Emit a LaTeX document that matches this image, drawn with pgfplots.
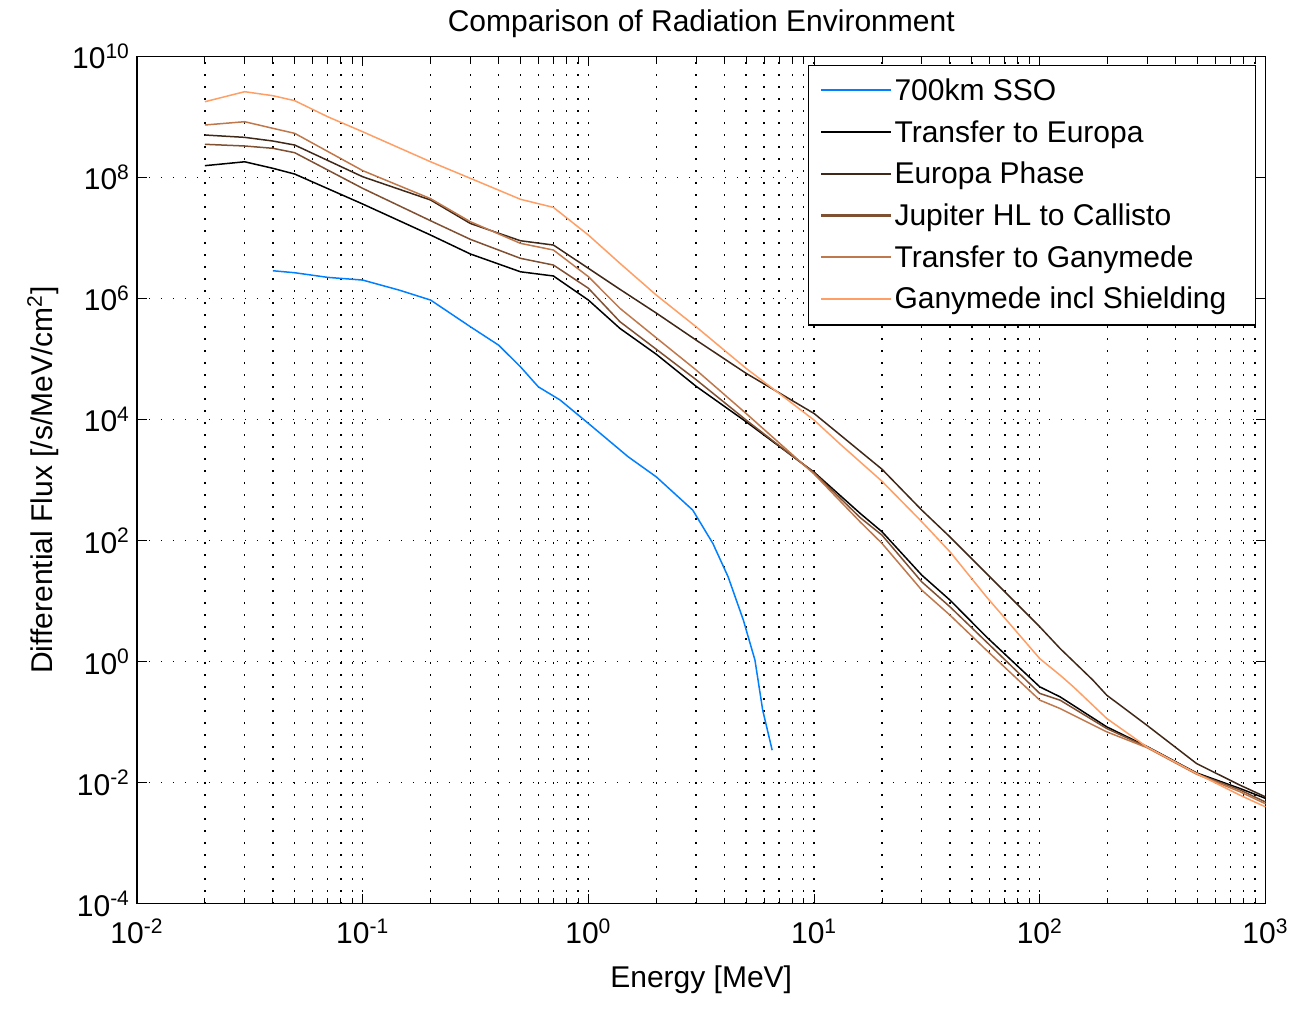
\documentclass[border=0pt]{standalone}
\usepackage{pgfplots}
\pgfplotsset{compat=1.18}
\usepackage{fontspec}
\setmainfont{Liberation Sans}
\definecolor{sso}{rgb}{0.0,0.5,1.0}
\definecolor{cA}{rgb}{0,0,0}
\definecolor{cB}{rgb}{0.25,0.156,0.1}
\definecolor{cC}{rgb}{0.5,0.3125,0.199}
\definecolor{cD}{rgb}{0.75,0.469,0.2985}
\definecolor{cE}{rgb}{1,0.625,0.398}
\newcommand{\fs}{\fontsize{15}{18}\selectfont}
\begin{document}
\begin{tikzpicture}
\path[use as bounding box] (-68.5pt,-52.15pt) rectangle (580pt,451.85pt);
\begin{axis}[
  scale only axis, width=564.25pt, height=423.6pt,
  xmode=log, ymode=log,
  xmin=1e-2, xmax=1e3, ymin=1e-4, ymax=1e10,
  xtick={1e-2,1e-1,1,1e1,1e2,1e3},
  xticklabels={10\textsuperscript{-2},10\textsuperscript{-1},10\textsuperscript{0},10\textsuperscript{1},10\textsuperscript{2},10\textsuperscript{3}},
  ytick={1e-4,1e-2,1,1e2,1e4,1e6,1e8,1e10},
  yticklabels={10\textsuperscript{-4},10\textsuperscript{-2},10\textsuperscript{0},10\textsuperscript{2},10\textsuperscript{4},10\textsuperscript{6},10\textsuperscript{8},10\textsuperscript{10}},
  yminorticks=false,
  tick align=inside,
  major tick length=5pt, minor tick length=3pt,
  tick style={black, line width=0.5pt},
  axis line style={black, line width=0.6pt},
  xmajorgrids, ymajorgrids, xminorgrids,
  major grid style={black, line width=0.7pt, dash pattern=on 0.7pt off 5.3pt},
  minor grid style={black, line width=0.7pt, dash pattern=on 0.7pt off 5.3pt},
  tick label style={font=\fs},
  xticklabel style={yshift=-4pt},
  label style={font=\fs},
  xlabel style={yshift=-4pt},
  title style={font=\fs},
  title={Comparison of Radiation Environment},
  xlabel={Energy [MeV]},
  ylabel={Differential Flux [/s/MeV/cm\textsuperscript{2}]},
  legend cell align=left,
  legend style={at={(0.9916,0.99)}, anchor=north east, font=\fs,
    draw=black, line width=0.6pt, inner xsep=6pt, inner ysep=4.5pt,
    row sep=4.5pt, nodes={inner xsep=1pt}},
  legend image code/.code={\draw[#1, line width=1.1pt] (0pt,0.3pt) -- (35pt,0.3pt);},
  every axis plot/.append style={line width=0.75pt},
]
\addplot[color=sso] coordinates {(0.04,2.88e6)(0.05,2.67e6)(0.07,2.24e6)(0.1,2.02e6)(0.145,1.38e6)(0.2,9.44e5)(0.3,3.42e5)(0.4,1.70e5)(0.5,7.46e4)(0.6,3.48e4)(0.75,2.10e4)(1,8.65e3)(1.5,2.43e3)(2,1.13e3)(2.9,319)(3.56,89.9)(4.16,25.2)(4.86,4.85)(5.47,1.06)(5.92,0.158)(6.52,0.0344)};
\addlegendentry{700km SSO}
\addplot[color=cA] coordinates {(0.02,1.57e8)(0.03,1.82e8)(0.04,1.42e8)(0.05,1.14e8)(0.1,3.65e7)(0.2,1.12e7)(0.3,5.45e6)(0.5,2.77e6)(0.7,2.36e6)(1,9.44e5)(1.38,3.21e5)(2,1.20e5)(3,3.55e4)(5,9.20e3)(10,1.35e3)(16,282)(20,140)(30,26.9)(40,10.4)(58,2.57)(100,0.383)(123,0.262)(198,0.0836)(298,0.0398)(495,0.0145)(771,0.00802)(1000,0.00550)};
\addlegendentry{Transfer to Europa}
\addplot[color=cB] coordinates {(0.02,5.04e8)(0.03,4.61e8)(0.04,4.01e8)(0.05,3.44e8)(0.1,1.03e8)(0.2,4.25e7)(0.3,1.74e7)(0.5,9.02e6)(0.7,7.66e6)(1,3.16e6)(1.38,1.42e6)(2,5.75e5)(3,2.06e5)(5,5.81e4)(10,1.26e4)(20,1.51e3)(30,319)(40,115)(58,28.7)(100,3.76)(123,1.65)(172,0.494)(198,0.279)(298,0.0891)(495,0.0207)(771,0.0091)(1000,0.00582)};
\addlegendentry{Europa Phase}
\addplot[color=cC] coordinates {(0.02,3.54e8)(0.03,3.32e8)(0.04,3.04e8)(0.05,2.57e8)(0.1,6.62e7)(0.2,1.93e7)(0.3,9.51e6)(0.5,4.62e6)(0.7,3.58e6)(1,1.48e6)(1.38,4.14e5)(2,1.45e5)(3,4.57e4)(5,9.82e3)(10,1.32e3)(16,240)(20,123)(30,20.8)(40,8.05)(58,2.12)(100,0.298)(123,0.231)(198,0.0785)(298,0.0389)(495,0.0141)(771,0.00759)(1000,0.00479)};
\addlegendentry{Jupiter HL to Callisto}
\addplot[color=cD] coordinates {(0.02,7.38e8)(0.03,8.36e8)(0.04,6.50e8)(0.05,5.37e8)(0.1,1.30e8)(0.2,4.47e7)(0.3,1.86e7)(0.5,8.17e6)(0.7,6.34e6)(1,2.30e6)(1.38,6.89e5)(2,2.24e5)(3,6.61e4)(5,1.26e4)(10,1.26e3)(16,204)(20,89.9)(30,15.2)(40,5.87)(58,1.55)(100,0.231)(123,0.168)(198,0.0692)(298,0.0380)(495,0.0138)(771,0.00708)(1000,0.00447)};
\addlegendentry{Transfer to Ganymede}
\addplot[color=cE] coordinates {(0.02,1.79e9)(0.03,2.62e9)(0.04,2.25e9)(0.05,1.86e9)(0.07,1.01e9)(0.1,5.71e8)(0.2,1.82e8)(0.3,9.70e7)(0.5,4.37e7)(0.7,3.21e7)(1,1.12e7)(1.38,3.82e6)(2,1.14e6)(3,3.42e5)(5,7.01e4)(7,2.71e4)(10,9.8e3)(13,3.98e3)(20,9.55e2)(30,205)(40,65.3)(58,11.8)(100,1.12)(123,0.598)(141,0.383)(198,0.115)(298,0.0391)(495,0.0142)(771,0.00621)(1000,0.00398)};
\addlegendentry{Ganymede incl Shielding\rule{7.5pt}{0pt}}
\end{axis}
\end{tikzpicture}
\end{document}
